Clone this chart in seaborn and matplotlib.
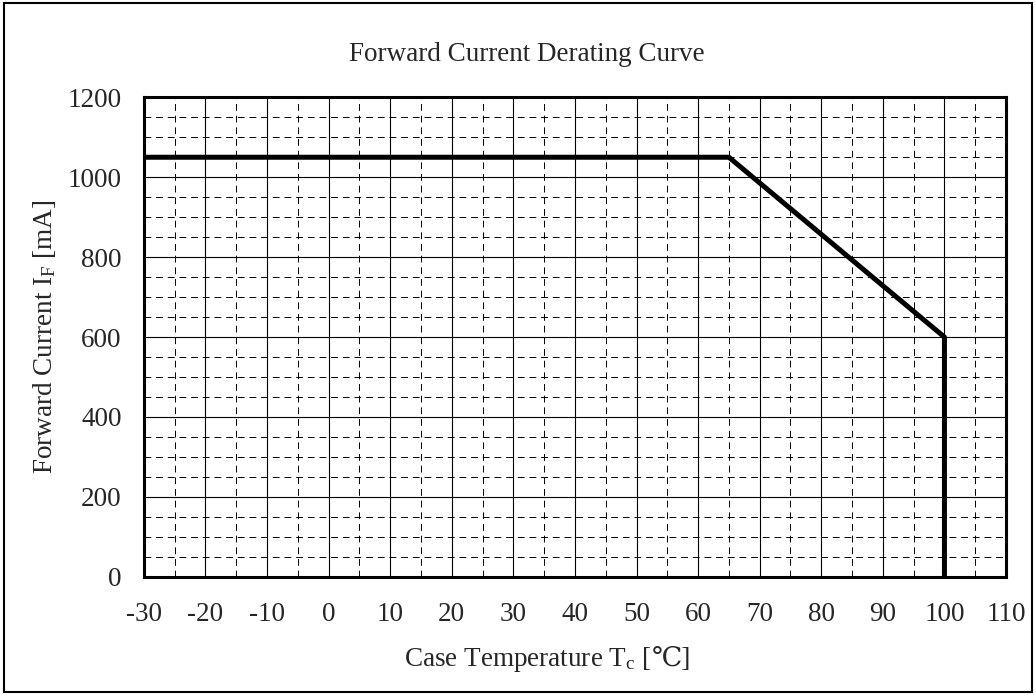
import pandas as pd
import seaborn as sns
import matplotlib.pyplot as plt
from matplotlib.patches import Rectangle
from matplotlib.ticker import MultipleLocator
from matplotlib.offsetbox import TextArea, HPacker, AnchoredOffsetbox

# derating curve corner points
temp_c = [-30, 65, 100, 100]
current_ma = [1050, 1050, 600, 0]
x_ticks = list(range(-30, 111, 10))
y_ticks = list(range(0, 1201, 200))

sns.set_style("white")
plt.rcParams['font.family'] = ['Liberation Serif', 'DejaVu Serif']
plt.rcParams['mathtext.fontset'] = 'custom'
plt.rcParams['mathtext.rm'] = 'Liberation Serif'
plt.rcParams['mathtext.it'] = 'Liberation Serif:italic'
plt.rcParams['axes.unicode_minus'] = False

data = pd.DataFrame({'Tc': temp_c, 'IF': current_ma})

fig = plt.figure(figsize=(10.35, 6.95), dpi=100)
ax = fig.add_axes([0.139, 0.170, 0.833, 0.690])

ax.set_xlim(-30, 110)
ax.set_ylim(0, 1200)
ax.set_xticks(x_ticks)
ax.set_yticks(y_ticks)
ax.xaxis.set_minor_locator(MultipleLocator(5))
ax.yaxis.set_minor_locator(MultipleLocator(50))
ax.grid(which='major', color='black', linewidth=0.8, linestyle='-')
ax.grid(which='minor', color='black', linewidth=0.7, linestyle=(0, (7, 5)))
ax.set_axisbelow(True)

sns.lineplot(data=data, x='Tc', y='IF', sort=False, estimator=None,
             color='black', linewidth=3.6, ax=ax, zorder=5)

ax.tick_params(axis='x', which='both', length=0, labelsize=19.5, pad=18)
ax.tick_params(axis='y', which='both', length=0, labelsize=19.5, pad=16)
for s in ax.spines.values():
    s.set_linewidth(2.2)
    s.set_color('black')

ax.set_title('Forward Current Derating Curve', fontsize=19.5, pad=26, x=0.444)
ax.set_xlabel('')
ax.set_ylabel('Forward Current I$_\\mathrm{F}$ [mA]', fontsize=19.5, labelpad=7)

# x label in two parts so the ℃ sign can fall back to DejaVu Serif
part1 = TextArea('Case Temperature T$_\\mathrm{c}$ [', textprops=dict(fontsize=19.5))
part2 = TextArea('℃]', textprops=dict(fontsize=19.5))
xlab = HPacker(children=[part1, part2], align='baseline', pad=0, sep=0)
ax.add_artist(AnchoredOffsetbox(loc='center', child=xlab, frameon=False, pad=0,
                                bbox_to_anchor=(0.468, -0.172), bbox_transform=ax.transAxes,
                                borderpad=0))

# outer frame
fig.patches.append(Rectangle((0.004, 0.005), 0.993, 0.99, transform=fig.transFigure,
                             fill=False, edgecolor='black', linewidth=1.5))

plt.savefig('out.png', dpi=100)
